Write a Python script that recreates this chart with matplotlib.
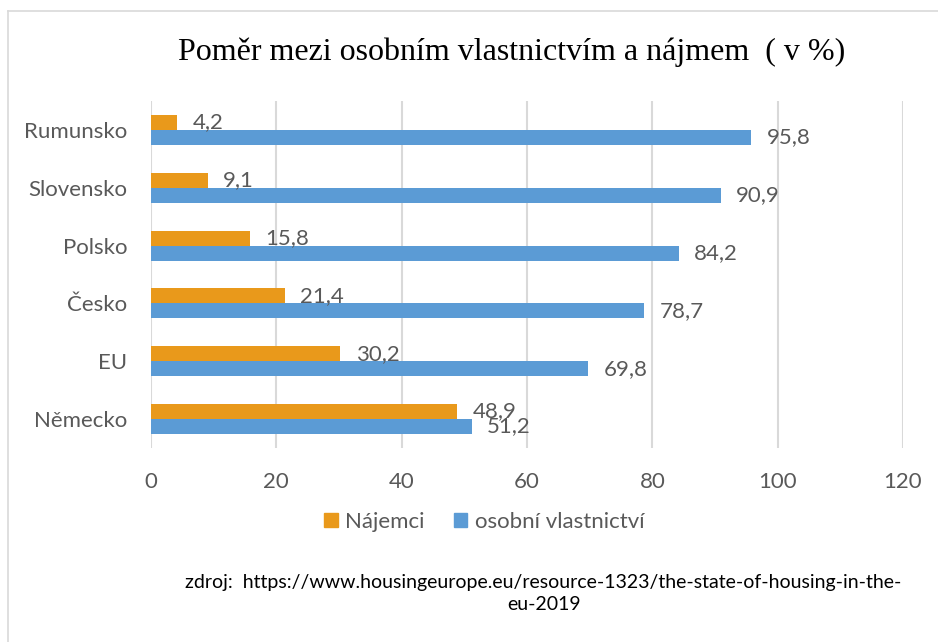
import matplotlib
matplotlib.use('Agg')
import matplotlib.pyplot as plt
import numpy as np
from matplotlib.lines import Line2D
from matplotlib.patches import Patch

countries = ['Rumunsko', 'Slovensko', 'Polsko', 'Česko', 'EU', 'Německo']
najemci = [4.2, 9.1, 15.8, 21.4, 30.2, 48.9]
vlastnictvi = [95.8, 90.9, 84.2, 78.7, 69.8, 51.2]
ticks = [0, 20, 40, 60, 80, 100, 120]

orange = '#E9991B'
blue = '#5B9BD5'
grey = '#595959'
plt.rcParams['font.family'] = ['Lato', 'DejaVu Sans']

fig = plt.figure(figsize=(9.38, 6.42), dpi=100)
ax = fig.add_axes([0.161, 0.3022, 0.8017, 0.5405])

y = np.arange(len(countries))
h = 0.26
ax.barh(y - h/2, najemci, height=h, color=orange, label='Nájemci')
ax.barh(y + h/2, vlastnictvi, height=h, color=blue, label='osobní vlastnictví')

# popisky hodnot s desetinnou carkou
for i in range(len(countries)):
    ax.annotate(str(najemci[i]).replace('.', ','), (najemci[i], y[i] - h/2),
                xytext=(11, 0), textcoords='offset points', va='center', ha='left',
                fontsize=16, color=grey)
    ax.annotate(str(vlastnictvi[i]).replace('.', ','), (vlastnictvi[i], y[i] + h/2),
                xytext=(11, 0), textcoords='offset points', va='center', ha='left',
                fontsize=16, color=grey)

ax.set_xlim(0, 120)
ax.set_ylim(len(countries) - 0.5, -0.5)
ax.set_xticks(ticks)
ax.set_yticks(y)
ax.set_yticklabels(countries)
ax.tick_params(length=0, labelsize=16, labelcolor=grey)
ax.tick_params(axis='x', pad=17)
ax.tick_params(axis='y', pad=17)
ax.grid(axis='x', color='#D9D9D9', linewidth=1.5)
ax.set_axisbelow(True)
for s in ax.spines.values():
    s.set_visible(False)

fig.text(0.545, 0.918, 'Poměr mezi osobním vlastnictvím a nájmem  ( v %)',
         ha='center', va='center', fontsize=23, family='Liberation Serif', color='black')

handles = [Patch(color=orange), Patch(color=blue)]
fig.legend(handles, ['Nájemci', 'osobní vlastnictví'], loc='center', bbox_to_anchor=(0.5165, 0.187),
           ncol=2, frameon=False, fontsize=16, handlelength=0.6, handleheight=0.6,
           handletextpad=0.35, columnspacing=1.3, labelcolor=grey)

fig.text(0.5795, 0.076, 'zdroj:  https://www.housingeurope.eu/resource-1323/the-state-of-housing-in-the-\neu-2019',
         ha='center', va='center', fontsize=14, color='black', linespacing=1.35, multialignment='center')

fig.add_artist(Line2D([7.5/938, 1], [1 - 11/642, 1 - 11/642], color='#D9D9D9', linewidth=1.2))
fig.add_artist(Line2D([7.5/938, 7.5/938], [0, 1 - 11/642], color='#D9D9D9', linewidth=1.2))

fig.savefig('out.png', dpi=100)
